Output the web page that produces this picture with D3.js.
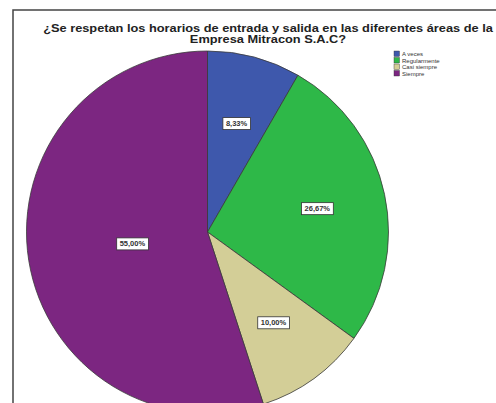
<!DOCTYPE html>
<html>
<head>
<meta charset="utf-8">
<script src="https://cdn.jsdelivr.net/npm/d3@7/dist/d3.min.js"></script>
<style>
  html, body { margin: 0; padding: 0; background: #fff; }
  svg { display: block; font-family: "Liberation Sans", Arial, sans-serif; }
</style>
</head>
<body>
<svg id="chart" width="496" height="403"></svg>
<script>
// Survey answers: share of respondents per category (%)
const categories = ["A veces", "Regularmente", "Casi siempre", "Siempre"];
const percentages = [8.33, 26.67, 10.00, 55.00];
const sliceColors = ["#3e58ac", "#2eb848", "#d3ce97", "#7c2681"];
const titleLines = [
  "¿Se respetan los horarios de entrada y salida en las diferentes áreas de la",
  "Empresa Mitracon S.A.C?"
];

const svg = d3.select("#chart");
const W = 496, H = 403;

// Outer chart frame (top and left edges visible)
svg.append("path")
  .attr("d", `M13,${H} L13,10 L${W},10`)
  .attr("fill", "none")
  .attr("stroke", "#444")
  .attr("stroke-width", 1.5);

// Title, set in a wide bold face
const titleX = 268;
const title = svg.append("text")
  .attr("text-anchor", "middle")
  .attr("font-weight", "bold")
  .attr("font-size", 10)
  .attr("fill", "#222")
  .attr("transform", `translate(${titleX},0) scale(1.28,1)`);
titleLines.forEach((t, i) => {
  title.append("tspan").attr("x", 0).attr("y", 32.5 + i * 10.5).text(t);
});

// Pie
const cx = 207.5, cy = 232, R = 181;
const data = categories.map((c, i) => ({ category: c, value: percentages[i] }));
const pie = d3.pie().value(d => d.value).sort(null);
const arc = d3.arc().innerRadius(0).outerRadius(R);
const color = d3.scaleOrdinal().domain(categories).range(sliceColors);
const fmt = v => d3.format(".2f")(v).replace(".", ",") + "%";

const g = svg.append("g").attr("transform", `translate(${cx},${cy})`);
const arcs = pie(data);

g.selectAll("path.slice")
  .data(arcs)
  .join("path")
  .attr("class", "slice")
  .attr("d", arc)
  .attr("fill", d => color(d.data.category))
  .attr("stroke", "#3a3a3a")
  .attr("stroke-width", 0.8);

// Value labels in boxed tags
const labelPos = d => {
  const big = (d.endAngle - d.startAngle) > Math.PI;
  const r = big ? R * 0.42 : R * 0.62;
  const a = (d.startAngle + d.endAngle) / 2;
  return [Math.sin(a) * r, -Math.cos(a) * r];
};
const labels = g.selectAll("g.lbl")
  .data(arcs)
  .join("g")
  .attr("class", "lbl")
  .attr("transform", d => `translate(${labelPos(d)})`);

labels.each(function(d) {
  const sel = d3.select(this);
  const txt = sel.append("text")
    .attr("text-anchor", "middle")
    .attr("dominant-baseline", "central")
    .attr("font-size", 7.5)
    .attr("font-weight", "bold")
    .attr("fill", "#333")
    .text(fmt(d.data.value));
  const bb = txt.node().getBBox();
  sel.insert("rect", "text")
    .attr("x", bb.x - 3)
    .attr("y", bb.y - 1.5)
    .attr("width", bb.width + 6)
    .attr("height", bb.height + 3)
    .attr("fill", "#fff")
    .attr("stroke", "#333")
    .attr("stroke-width", 0.8);
});

// Legend
const legend = svg.append("g").attr("transform", "translate(394,51)");
const rows = legend.selectAll("g")
  .data(categories)
  .join("g")
  .attr("transform", (d, i) => `translate(0,${i * 6.5})`);
rows.append("rect")
  .attr("width", 5.5).attr("height", 5.5)
  .attr("fill", d => color(d))
  .attr("stroke", "#333").attr("stroke-width", 0.4);
rows.append("text")
  .attr("x", 8).attr("y", 5)
  .attr("font-size", 6)
  .attr("fill", "#333")
  .text(d => d);
</script>
</body>
</html>
